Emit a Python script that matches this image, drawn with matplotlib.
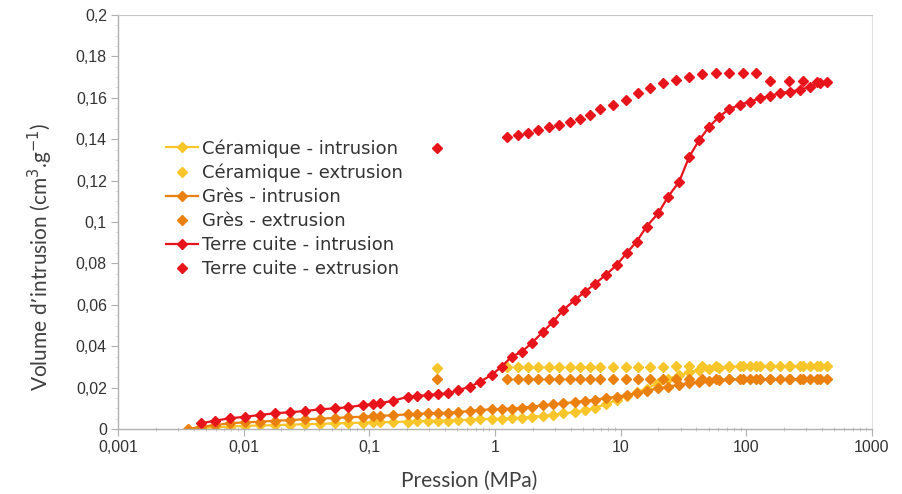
import numpy as np
import matplotlib
matplotlib.use("Agg")
import matplotlib.pyplot as plt
from matplotlib.ticker import FuncFormatter, MultipleLocator, FixedLocator, NullFormatter

# Pression (MPa) - intrusion points
P_INTR = [0.0036, 0.0046, 0.0059, 0.0078, 0.0103, 0.0135, 0.0178, 0.0234, 0.0307, 0.0405,
          0.0533, 0.068, 0.0894, 0.1075, 0.1215, 0.155, 0.204, 0.238, 0.294, 0.354,
          0.424, 0.51, 0.632, 0.758, 0.939,
          1.128, 1.355, 1.627, 1.955, 2.42, 2.90, 3.49, 4.31, 5.19, 6.23,
          7.63, 9.28, 11.13, 13.39, 16.06, 19.9, 23.9, 29.2, 35.1, 42.2,
          50.6, 60.8, 73.0, 88.8, 106.5, 128, 153.7, 184.9, 221.8, 266.7,
          319.9, 383.7, 435]

ceramique_intr = [0.0, 0.0004, 0.0008, 0.0012, 0.0015, 0.0017, 0.0019, 0.0021, 0.0023, 0.0025,
                  0.0027, 0.0029, 0.0031, 0.0032, 0.0033, 0.0034, 0.0036, 0.0037, 0.0039, 0.0040,
                  0.0041, 0.0043, 0.0045, 0.0047, 0.0049,
                  0.0050, 0.0052, 0.0055, 0.0059, 0.0064, 0.0069, 0.0075, 0.0082, 0.0090, 0.0102,
                  0.0120, 0.0140, 0.0160, 0.0178, 0.0195, 0.0222, 0.0242, 0.0260, 0.0274, 0.0285,
                  0.0292, 0.0297, 0.0300, 0.0302, 0.0302, 0.0303, 0.0302, 0.0303, 0.0303, 0.0302,
                  0.0303, 0.0303, 0.0303]

gres_intr = [0.0, 0.0011, 0.0019, 0.0028, 0.0032, 0.0035, 0.0040, 0.0043, 0.0047, 0.0050,
             0.0053, 0.0057, 0.0059, 0.0063, 0.0064, 0.0066, 0.0071, 0.0072, 0.0076, 0.0076,
             0.0079, 0.0082, 0.0087, 0.0092, 0.0095,
             0.0097, 0.0099, 0.0103, 0.0108, 0.0114, 0.0119, 0.0124, 0.0130, 0.0135, 0.0141,
             0.0150, 0.0156, 0.0163, 0.0174, 0.0184, 0.0196, 0.0205, 0.0214, 0.0221, 0.0229,
             0.0234, 0.0238, 0.0240, 0.0240, 0.0240, 0.0241, 0.0240, 0.0240, 0.0241, 0.0240,
             0.0240, 0.0241, 0.0240]

terre_intr = [np.nan, 0.0028, 0.0040, 0.0052, 0.0059, 0.0068, 0.0076, 0.0081, 0.0087, 0.0095,
              0.0100, 0.0105, 0.0116, 0.0119, 0.0124, 0.0137, 0.0156, 0.0159, 0.0164, 0.0169,
              0.0172, 0.0188, 0.0204, 0.0228, 0.0261,
              0.0301, 0.0349, 0.0373, 0.0414, 0.0471, 0.0518, 0.0575, 0.0623, 0.0663, 0.0701,
              0.0745, 0.0792, 0.0849, 0.0905, 0.0978, 0.1042, 0.1123, 0.1195, 0.1315, 0.1396,
              0.1460, 0.1509, 0.1545, 0.1566, 0.1582, 0.1597, 0.1609, 0.1622, 0.1630, 0.1638,
              0.1654, 0.1670, 0.1678]

# Pression (MPa) - extrusion points
P_EXTR = [0.345, 1.251, 1.512, 1.818, 2.205, 2.684, 3.241, 3.925, 4.742, 5.713,
          6.871, 8.668, 10.93, 13.79, 17.16, 21.8, 27.5, 34.9, 44.6, 57.2,
          73.0, 93.4, 119.7, 153, 216.7, 284.9, 361.8]

ceramique_extr = [0.0296, 0.0301, 0.0301, 0.0301, 0.0301, 0.0301, 0.0301, 0.0301, 0.0301, 0.0301,
                  0.0301, 0.0301, 0.0301, 0.0301, 0.0301, 0.0301, 0.0302, 0.0302, 0.0302, 0.0302,
                  0.0302, 0.0302, 0.0302, 0.0302, 0.0302, 0.0302, 0.0302]

gres_extr = [0.0242, 0.0240, 0.0240, 0.0240, 0.0240, 0.0240, 0.0240, 0.0240, 0.0240, 0.0240,
             0.0240, 0.0240, 0.0240, 0.0240, 0.0240, 0.0240, 0.0240, 0.0240, 0.0240, 0.0240,
             0.0240, 0.0240, 0.0240, 0.0240, 0.0240, 0.0240, 0.0240]

terre_extr = [0.1357, 0.1412, 0.1420, 0.1431, 0.1444, 0.1458, 0.1469, 0.1482, 0.1499, 0.1517,
              0.1544, 0.1565, 0.1589, 0.1622, 0.1646, 0.1670, 0.1686, 0.1702, 0.1715, 0.1718,
              0.1718, 0.1718, 0.1718, 0.1683, 0.1683, 0.1683, 0.1678]

X_TICKS = [0.001, 0.01, 0.1, 1, 10, 100, 1000]
Y_TICKS = [0, 0.02, 0.04, 0.06, 0.08, 0.1, 0.12, 0.14, 0.16, 0.18, 0.2]

YELLOW = "#F8C62A"
ORANGE = "#EA800F"
RED = "#E8141C"

fig = plt.figure(figsize=(9.03, 4.94), dpi=100)
ax = fig.add_axes([118 / 903, 1 - 429 / 494, (872 - 118) / 903, (429 - 15) / 494])

ms = 5.5
ax.plot(P_INTR, ceramique_intr, "-D", color=YELLOW, lw=1.6, ms=ms, label="Céramique - intrusion")
ax.plot(P_EXTR, ceramique_extr, "D", color=YELLOW, ms=ms, label="Céramique - extrusion")
ax.plot(P_INTR, gres_intr, "-D", color=ORANGE, lw=1.6, ms=ms, label="Grès - intrusion")
ax.plot(P_EXTR, gres_extr, "D", color=ORANGE, ms=ms, label="Grès - extrusion")
ax.plot(P_INTR, terre_intr, "-D", color=RED, lw=1.6, ms=ms, label="Terre cuite - intrusion")
ax.plot(P_EXTR, terre_extr, "D", color=RED, ms=ms, label="Terre cuite - extrusion")

ax.set_xscale("log")
ax.set_xlim(0.001, 1000)
ax.set_ylim(0, 0.2)
ax.xaxis.set_major_locator(FixedLocator(X_TICKS))
ax.yaxis.set_major_locator(FixedLocator(Y_TICKS))
minor_x = [m * d for d in X_TICKS[:-1] for m in range(2, 10)]
ax.xaxis.set_minor_locator(FixedLocator(minor_x))
ax.yaxis.set_minor_locator(MultipleLocator(0.005))

fmt = FuncFormatter(lambda v, pos: "{:g}".format(v).replace(".", ","))
ax.xaxis.set_major_formatter(fmt)
ax.yaxis.set_major_formatter(fmt)
ax.xaxis.set_minor_formatter(NullFormatter())
ax.yaxis.set_minor_formatter(NullFormatter())

for side in ["left", "bottom"]:
    ax.spines[side].set_color("#B0B0B0")
    ax.spines[side].set_linewidth(1.0)
ax.spines["top"].set_color("#C8C8C8")
ax.spines["right"].set_color("#E0E0E0")

ax.tick_params(axis="both", which="major", length=5, color="#B0B0B0", labelsize=11.5,
               labelcolor="#333333", pad=3)
ax.tick_params(axis="x", which="minor", direction="inout", length=3, color="#C0C0C0")
ax.tick_params(axis="y", which="minor", direction="out", length=2, color="#DDDDDD")
for lab in ax.get_xticklabels() + ax.get_yticklabels():
    lab.set_family("Liberation Sans")

ax.set_xlabel("Pression (MPa)", family="Lato", fontsize=15, color="#404040")
ax.xaxis.set_label_coords(0.466, -0.1)
ax.set_ylabel("Volume d\u2019intrusion (cm$^3$.g$^{-1}$)", family="Lato", fontsize=15,
              color="#404040")
ax.yaxis.set_label_coords(-0.084, 0.415)

leg = ax.legend(loc="upper left", bbox_to_anchor=(0.064, 0.700), frameon=False,
                prop={"family": "DejaVu Sans", "size": 13}, handlelength=1.75,
                handletextpad=0.25, labelspacing=0.33, borderaxespad=0, borderpad=0)
for t in leg.get_texts():
    t.set_color("#333333")

fig.savefig("out.png", dpi=100)
